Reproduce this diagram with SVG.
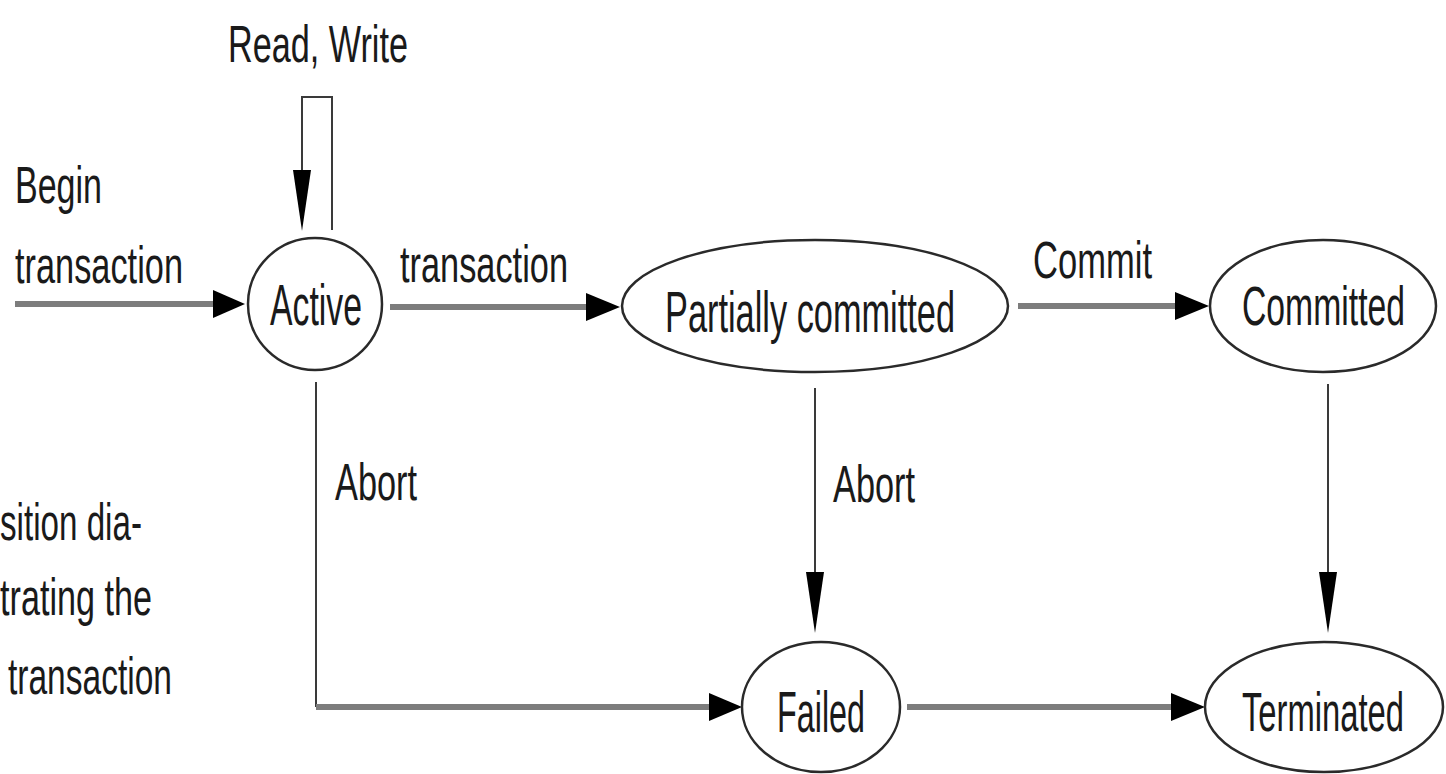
<svg xmlns="http://www.w3.org/2000/svg" width="1446" height="774" viewBox="0 0 1446 774">
<style>
text{font-family:"Liberation Sans",Arial,sans-serif;fill:#1a1a1a;}
.lbl{font-size:52px;}
.nd{font-size:58px;}
.nds{font-size:55px;}
.node{fill:#fff;stroke:#2a2a2a;stroke-width:2.5;}
.thick{stroke:#7d7d7d;stroke-width:6;fill:none;}
.thin{stroke:#3a3a3a;stroke-width:2;fill:none;}
.ah{fill:#000;}
</style>
<rect width="1446" height="774" fill="#fff"/>
<g id="connectors">
<line class="thick" x1="15" y1="304" x2="216" y2="304"/>
<polygon class="ah" points="213,290 245,304 213,318"/>
<polyline class="thin" points="302,172 302,97 332,97 332,230"/>
<polygon class="ah" points="293,170 311,170 302,231"/>
<line class="thick" x1="390" y1="307" x2="590" y2="307"/>
<polygon class="ah" points="586,293 620,307 586,321"/>
<line class="thick" x1="1018" y1="306" x2="1178" y2="306"/>
<polygon class="ah" points="1175,292 1209,306 1175,320"/>
<polyline class="thin" points="316,382 316,707"/>
<line class="thick" x1="316" y1="707" x2="712" y2="707"/>
<polygon class="ah" points="709,693 742,707 709,721"/>
<line class="thin" x1="815" y1="388" x2="815" y2="575"/>
<polygon class="ah" points="806,572 824,572 815,633"/>
<line class="thin" x1="1328" y1="384" x2="1328" y2="575"/>
<polygon class="ah" points="1319,572 1337,572 1328,633"/>
<line class="thick" x1="907" y1="707" x2="1174" y2="707"/>
<polygon class="ah" points="1171,693 1205,707 1171,721"/>
</g>
<g id="labels">
<text class="lbl" x="228" y="62" textLength="180" lengthAdjust="spacingAndGlyphs">Read, Write</text>
<text class="lbl" x="15" y="203" textLength="87" lengthAdjust="spacingAndGlyphs">Begin</text>
<text class="lbl" x="15" y="283" textLength="168" lengthAdjust="spacingAndGlyphs">transaction</text>
<text class="lbl" x="400" y="282" textLength="168" lengthAdjust="spacingAndGlyphs">transaction</text>
<text class="lbl" x="1033" y="278" textLength="119" lengthAdjust="spacingAndGlyphs">Commit</text>
<text class="lbl" x="335" y="500" textLength="82" lengthAdjust="spacingAndGlyphs">Abort</text>
<text class="lbl" x="833" y="502" textLength="82" lengthAdjust="spacingAndGlyphs">Abort</text>
<text class="lbl" x="0" y="540" textLength="142" lengthAdjust="spacingAndGlyphs">sition dia-</text>
<text class="lbl" x="0" y="615" textLength="152" lengthAdjust="spacingAndGlyphs">trating the</text>
<text class="lbl" x="8" y="694" textLength="164" lengthAdjust="spacingAndGlyphs">transaction</text>
</g>
<g id="active">
<ellipse class="node" cx="315" cy="304" rx="67" ry="66"/>
<text class="nd" x="270" y="325" textLength="92" lengthAdjust="spacingAndGlyphs">Active</text>
</g>
<g id="partially-committed">
<ellipse class="node" cx="815" cy="306" rx="193" ry="66"/>
<text class="nd" x="665" y="332" textLength="290" lengthAdjust="spacingAndGlyphs">Partially committed</text>
</g>
<g id="committed">
<ellipse class="node" cx="1323" cy="306" rx="113" ry="66"/>
<text class="nds" x="1242" y="325" textLength="163" lengthAdjust="spacingAndGlyphs">Committed</text>
</g>
<g id="failed">
<ellipse class="node" cx="821" cy="707" rx="79" ry="65"/>
<text class="nd" x="777" y="732" textLength="88" lengthAdjust="spacingAndGlyphs">Failed</text>
</g>
<g id="terminated">
<ellipse class="node" cx="1324" cy="707" rx="119" ry="65"/>
<text class="nds" x="1242" y="731" textLength="162" lengthAdjust="spacingAndGlyphs">Terminated</text>
</g>
</svg>
